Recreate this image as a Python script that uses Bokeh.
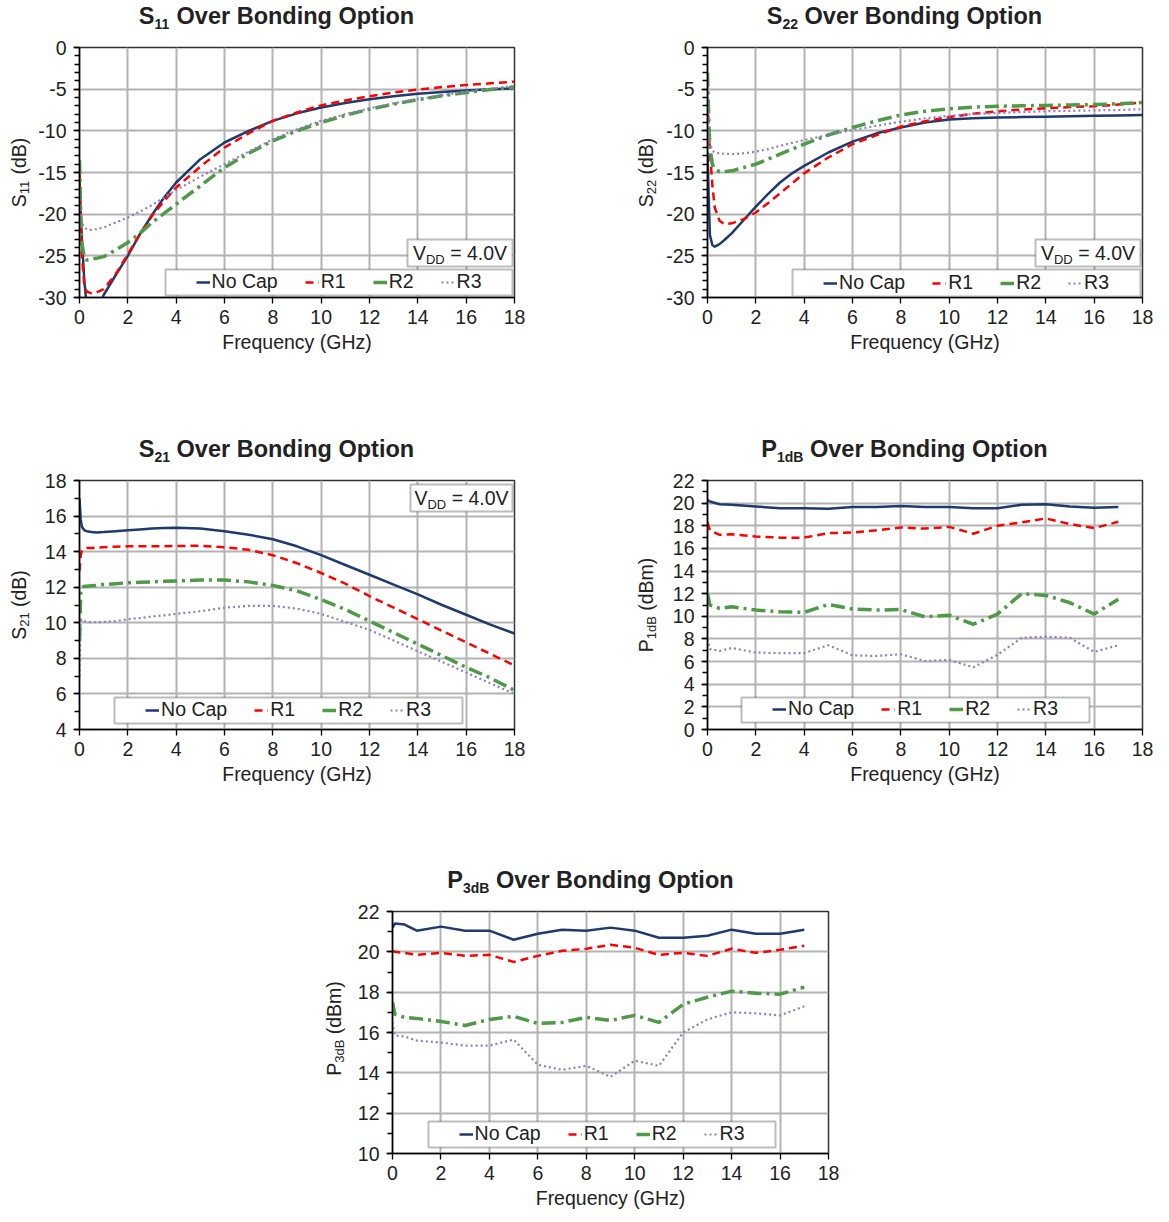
import math
from bokeh.plotting import figure
from bokeh.models import Range1d, FixedTicker, Legend, LegendItem, Label, BoxAnnotation, Spacer
from bokeh.layouts import column, row
from bokeh.embed import file_html
from bokeh.resources import INLINE

# ---------------- data ----------------
SERIES = ["No Cap", "R1", "R2", "R3"]
FREQ_TICKS = [0, 2, 4, 6, 8, 10, 12, 14, 16, 18]

S_FREQ = [0, 0.05, 0.1, 0.2, 0.3, 0.5, 0.7, 1, 1.5, 2, 2.5, 3, 3.5, 4, 5, 6, 7, 8, 9,
          10, 11, 12, 13, 14, 15, 16, 17, 18]

s11_nocap = [-16, -20, -23, -28, -31, -33, -32, -29.7, -27.3, -25, -22.4, -20.1, -18, -16.2,
             -13.4, -11.4, -10.0, -8.8, -7.9, -7.2, -6.65, -6.2, -5.85, -5.55, -5.35, -5.15, -5.0, -4.9]
s11_r1 = [-15, -21, -25, -28.5, -29.3, -29.5, -29.4, -29.0, -27.2, -24.8, -22.4, -20.2, -18.4, -16.8,
          -14.3, -12.0, -10.3, -8.8, -7.8, -6.95, -6.35, -5.85, -5.4, -5.05, -4.75, -4.5, -4.3, -4.1]
s11_r2 = [-13.5, -20, -23.5, -25.2, -25.5, -25.4, -25.3, -25.1, -24.3, -23.4, -22.3, -21.0, -19.9, -18.8,
          -16.6, -14.4, -12.7, -11.2, -10.0, -9.0, -8.15, -7.4, -6.8, -6.25, -5.8, -5.4, -5.05, -4.75]
s11_r3 = [-17, -20, -21, -21.6, -21.8, -21.9, -21.8, -21.6, -21.0, -20.4, -19.7, -18.9, -18.0, -17.1,
          -15.5, -14.0, -12.5, -11.0, -9.8, -8.8, -8.0, -7.3, -6.7, -6.2, -5.75, -5.3, -4.95, -4.6]

s22_nocap = [-12.5, -18, -22.5, -23.7, -23.9, -23.6, -23.1, -22.3, -20.7, -19.1, -17.6, -16.2, -15.1, -14.2,
             -12.6, -11.3, -10.3, -9.6, -9.0, -8.65, -8.5, -8.4, -8.35, -8.3, -8.25, -8.2, -8.15, -8.1]
s22_r1 = [-6.5, -9.5, -12.5, -16.5, -19.2, -20.8, -21.2, -21.1, -20.6, -19.8, -18.7, -17.5, -16.3, -15.1,
          -13.2, -11.6, -10.5, -9.5, -8.85, -8.35, -7.95, -7.65, -7.45, -7.3, -7.15, -7.05, -6.85, -6.6]
s22_r2 = [-3, -8.5, -12, -14, -14.6, -14.9, -14.9, -14.8, -14.4, -14.0, -13.4, -12.8, -12.2, -11.6,
          -10.5, -9.6, -8.8, -8.1, -7.65, -7.35, -7.15, -7.05, -7.0, -6.95, -6.9, -6.85, -6.75, -6.6]
s22_r3 = [-3.5, -8.5, -11.5, -12.4, -12.6, -12.7, -12.75, -12.8, -12.7, -12.5, -12.2, -11.8, -11.45, -11.1,
          -10.5, -9.9, -9.4, -8.9, -8.5, -8.2, -8.0, -7.85, -7.75, -7.65, -7.6, -7.55, -7.5, -7.4]

s21_nocap = [17.0, 15.8, 15.4, 15.2, 15.15, 15.1, 15.08, 15.1, 15.15, 15.2, 15.25, 15.3, 15.33, 15.35,
             15.3, 15.15, 14.95, 14.7, 14.3, 13.8, 13.25, 12.7, 12.15, 11.6, 11.0, 10.45, 9.9, 9.4]
s21_r1 = [12.9, 13.8, 14.05, 14.15, 14.2, 14.2, 14.22, 14.25, 14.28, 14.3, 14.3, 14.3, 14.3, 14.32,
          14.33, 14.25, 14.1, 13.8, 13.35, 12.8, 12.2, 11.5, 10.85, 10.2, 9.55, 8.9, 8.25, 7.6]
s21_r2 = [9.0, 11.8, 12.0, 12.05, 12.05, 12.08, 12.1, 12.15, 12.2, 12.25, 12.28, 12.3, 12.33, 12.35,
          12.4, 12.4, 12.3, 12.1, 11.8, 11.3, 10.75, 10.1, 9.45, 8.8, 8.15, 7.5, 6.9, 6.2]
s21_r3 = [7.0, 10.1, 10.2, 10.1, 10.05, 10.03, 10.03, 10.05, 10.1, 10.2, 10.27, 10.35, 10.42, 10.5,
          10.65, 10.85, 10.95, 10.95, 10.8, 10.5, 10.05, 9.6, 9.0, 8.4, 7.8, 7.2, 6.6, 6.0]

P_FREQ = [0, 0.1, 0.5, 1, 2, 3, 4, 5, 6, 7, 8, 9, 10, 11, 12, 13, 14, 15, 16, 17]

p1_nocap = [20.3, 20.15, 19.9, 19.85, 19.7, 19.55, 19.55, 19.5, 19.65, 19.65, 19.75, 19.65, 19.65,
            19.55, 19.55, 19.85, 19.9, 19.7, 19.6, 19.65]
p1_r1 = [18.3, 17.6, 17.2, 17.25, 17.05, 16.95, 16.95, 17.35, 17.4, 17.6, 17.85, 17.75, 17.9,
         17.3, 18.0, 18.3, 18.65, 18.15, 17.8, 18.35]
p1_r2 = [12.0, 11.0, 10.7, 10.85, 10.55, 10.4, 10.35, 11.05, 10.65, 10.55, 10.6, 9.95, 10.1,
         9.3, 10.2, 12.0, 11.85, 11.2, 10.2, 11.5]
p1_r3 = [8.0, 7.1, 6.95, 7.2, 6.8, 6.75, 6.75, 7.45, 6.55, 6.5, 6.65, 6.05, 6.15,
         5.5, 6.6, 8.1, 8.2, 8.1, 6.85, 7.45]

p3_nocap = [21.2, 21.4, 21.35, 21.05, 21.25, 21.05, 21.05, 20.6, 20.9, 21.1, 21.05, 21.2, 21.05,
            20.7, 20.7, 20.8, 21.1, 20.9, 20.9, 21.1]
p3_r1 = [20.05, 20.0, 19.95, 19.85, 19.95, 19.8, 19.85, 19.5, 19.8, 20.05, 20.15, 20.35, 20.2,
         19.85, 19.95, 19.8, 20.15, 19.95, 20.1, 20.3]
p3_r2 = [17.5, 16.9, 16.75, 16.7, 16.55, 16.35, 16.65, 16.8, 16.45, 16.5, 16.75, 16.6, 16.85,
         16.5, 17.4, 17.75, 18.05, 17.95, 17.9, 18.25]
p3_r3 = [16.5, 15.85, 15.8, 15.6, 15.5, 15.35, 15.35, 15.65, 14.4, 14.15, 14.35, 13.8, 14.6,
         14.35, 16.0, 16.65, 17.0, 16.95, 16.85, 17.3]

S_DB_TICKS = [-30, -25, -20, -15, -10, -5, 0]
S_DB_MINOR = list(range(-30, 1))
S21_TICKS = [4, 6, 8, 10, 12, 14, 16, 18]
S21_MINOR = list(range(4, 19))
P1_TICKS = [0, 2, 4, 6, 8, 10, 12, 14, 16, 18, 20, 22]
P1_MINOR = list(range(0, 23))
P3_TICKS = [10, 12, 14, 16, 18, 20, 22]
P3_MINOR = list(range(10, 23))

# ---------------- style ----------------
FONT = "Liberation Sans"
TXT = "#222222"
FS = 19.5
MID = 0.3465  # baseline -> middle of text box, in em
STYLES = [
    dict(line_color="#1f3a6e", line_width=2.5),
    dict(line_color="#ff0000", line_width=2.5, line_dash="8 5"),
    dict(line_color="#4e9a47", line_width=3.5, line_dash="14 5 3 5"),
    dict(line_color="#8f7dc6", line_width=2.2, line_dash="2 3"),
]

AR = {' ': 278, '(': 333, ')': 333, '.': 278, '=': 584, '-': 333, 'B': 667, 'D': 722, 'P': 667,
      'S': 667, 'V': 667, 'C': 722, 'N': 722, 'R': 722, 'a': 556, 'd': 556, 'm': 833, 'o': 556, 'p': 556}
AB = {' ': 278, 'O': 778, 'v': 556, 'e': 556, 'r': 389, 'B': 722, 'o': 611, 'n': 611, 'd': 611,
      'i': 278, 'g': 611, 'p': 611, 't': 333, 'S': 667, 'P': 667}


def tw(s, size, bold=False):
    tbl = AB if bold else AR
    return sum(tbl.get(c, 556) for c in s) * size / 1000.0


def add_pieces(p, pieces, x0, y0, angle=0.0):
    """(x0, y0): start of the baseline, frame-relative screen units (y up)."""
    pos = 0.0
    for txt, size, bold, shift in pieces:
        lead = len(txt) - len(txt.lstrip(' '))
        pos += tw(' ' * lead, size, bold)
        t = txt.strip(' ')
        if angle == 0:
            x, y = x0 + pos, y0 - shift + MID * size
        else:
            x, y = x0 + shift - MID * size, y0 + pos
        p.add_layout(Label(x=x, y=y, x_units="screen", y_units="screen", text=t, angle=angle,
                           text_font=FONT, text_font_size=f"{size}px",
                           text_font_style="bold" if bold else "normal",
                           text_baseline="middle", text_align="left", text_color=TXT))
        pos += tw(t, size, bold)


def total_w(pieces):
    return sum(tw(t, s, b) for t, s, b, _ in pieces)


def text_fig(w, h, mbt=0, mbb=0):
    p = figure(width=w, height=h, output_backend="svg", toolbar_location=None, tools="",
               title=None, x_axis_location=None, y_axis_location=None,
               min_border_left=0, min_border_right=0, min_border_top=mbt, min_border_bottom=mbb,
               x_range=Range1d(0, 1), y_range=Range1d(0, 1),
               background_fill_color="white", border_fill_color="white")
    p.outline_line_color = None
    p.grid.visible = False
    return p


def title_fig(w, h, cx, base, main, sub):
    p = text_fig(w, h)
    pcs = [(main, 23.5, True, 0), (sub, 14, True, 4), (" Over Bonding Option", 23.5, True, 0)]
    add_pieces(p, pcs, cx - total_w(pcs) / 2.0, base)
    return p


def ylabel_fig(w, h, mbt, mbb, bx, main, sub, unit):
    p = text_fig(w, h, mbt, mbb)
    fh = h - mbt - mbb
    pcs = [(main, FS, False, 0), (sub, 13, False, 4), (unit, FS, False, 0)]
    add_pieces(p, pcs, bx, fh / 2.0 - total_w(pcs) / 2.0, angle=math.pi / 2)
    return p


def make_panel(w, h, mbl, mbr, mbt, mbb, yr, yt, ym, freq, series, legend_box, vdd_box=None):
    p = figure(width=w, height=h, x_range=Range1d(0, 18), y_range=Range1d(*yr),
               output_backend="svg", toolbar_location=None, tools="", title=None,
               min_border_left=mbl, min_border_right=mbr, min_border_top=mbt, min_border_bottom=mbb,
               background_fill_color="white", border_fill_color="white")
    p.outline_line_color = "#333333"
    p.outline_line_width = 1.5

    p.xaxis.ticker = FixedTicker(ticks=FREQ_TICKS, minor_ticks=[])
    p.yaxis.ticker = FixedTicker(ticks=yt, minor_ticks=ym)
    p.yaxis.major_label_overrides = {v: str(v) for v in yt}
    for ax in (p.xaxis[0], p.yaxis[0]):
        ax.axis_line_color = "black"
        ax.axis_line_width = 1.5
        ax.major_tick_line_color = "black"
        ax.minor_tick_line_color = "black"
        ax.major_tick_line_width = 1.3
        ax.minor_tick_line_width = 1.3
        ax.major_tick_in = 0
        ax.major_tick_out = 6
        ax.minor_tick_in = 0
        ax.minor_tick_out = 5
        ax.major_label_text_font = FONT
        ax.major_label_text_font_size = f"{FS}px"
        ax.major_label_text_color = TXT
    p.xaxis.major_label_standoff = 6
    p.yaxis.major_label_standoff = 7
    p.xaxis.axis_label = "Frequency (GHz)"
    p.xaxis.axis_label_text_font = FONT
    p.xaxis.axis_label_text_font_size = f"{FS}px"
    p.xaxis.axis_label_text_font_style = "normal"
    p.xaxis.axis_label_text_color = TXT
    p.xaxis.axis_label_standoff = 4

    for g in (p.xgrid[0], p.ygrid[0]):
        g.grid_line_color = "#b3b3b3"
        g.grid_line_width = 2

    rends = []
    for ys, st in zip(series, STYLES):
        rends.append(p.line(freq, ys, line_join="round", **st))

    bl, br, bb, bt = legend_box
    p.add_layout(BoxAnnotation(left=bl, right=br, bottom=bb, top=bt, left_units="screen",
                               right_units="screen", bottom_units="screen", top_units="screen",
                               fill_color="white", fill_alpha=1.0, line_color="#222222",
                               line_width=2, level="annotation"))
    sp = 27
    lw = 6 + sum(14 + 2 + tw(s, FS) for s in SERIES) + sp * 3
    leg = Legend(items=[LegendItem(label=s, renderers=[r]) for s, r in zip(SERIES, rends)],
                 orientation="horizontal", location=(bl + (br - bl - lw) / 2.0, bb - 1),
                 padding=3, spacing=sp, glyph_width=14, glyph_height=20, label_standoff=2,
                 margin=0, border_line_alpha=0, background_fill_alpha=0,
                 label_text_font=FONT, label_text_font_size=f"{FS}px", label_text_color=TXT)
    p.add_layout(leg)

    if vdd_box is not None:
        l, r, b, t = vdd_box
        p.add_layout(BoxAnnotation(left=l, right=r, bottom=b, top=t, left_units="screen",
                                   right_units="screen", bottom_units="screen", top_units="screen",
                                   fill_color="white", fill_alpha=1.0, line_color="#222222",
                                   line_width=2, level="annotation"))
        pcs = [("V", FS, False, 0), ("DD", 13, False, 4.5), (" = 4.0V", FS, False, 0)]
        W = total_w(pcs)
        add_pieces(p, pcs, (l + r) / 2.0 - W / 2.0, (b + t) / 2.0 - 7)
    return p


TOP = 13  # border above each plot frame (room for the top tick label)
TB = 10   # title baseline height above the bottom of its strip

# ---- row 1 (S11, S22) ----
f1 = make_panel(598, 391, 47, 116, TOP, 128, (-30, 0), S_DB_TICKS, S_DB_MINOR, S_FREQ,
                [s11_nocap, s11_r1, s11_r2, s11_r3], (86, 433, 2, 28), vdd_box=(328, 433, 31, 58))
f2 = make_panel(495, 391, 45, 15, TOP, 128, (-30, 0), S_DB_TICKS, S_DB_MINOR, S_FREQ,
                [s22_nocap, s22_r1, s22_r2, s22_r3], (85, 433, 1, 28), vdd_box=(328, 433, 31, 58))
t1 = title_fig(630, 34, 276, TB, "S", "11")
t2 = title_fig(527, 34, 274, TB, "S", "22")
y1 = ylabel_fig(32, 391, TOP, 128, 25, "S", "11", " (dB)")
y2 = ylabel_fig(32, 391, TOP, 128, 22, "S", "22", " (dB)")

# ---- row 2 (S21, P1dB) ----
f3 = make_panel(598, 391, 47, 116, TOP, 129, (4, 18), S21_TICKS, S21_MINOR, S_FREQ,
                [s21_nocap, s21_r1, s21_r2, s21_r3], (35, 383, 6, 32), vdd_box=(331, 433, 218, 245))
f4 = make_panel(495, 391, 45, 15, TOP, 129, (0, 22), P1_TICKS, P1_MINOR, P_FREQ,
                [p1_nocap, p1_r1, p1_r2, p1_r3], (34, 382, 7, 32))
t3 = title_fig(630, 42, 276, TB, "S", "21")
t4 = title_fig(527, 42, 274, TB, "P", "1dB")
y3 = ylabel_fig(32, 391, TOP, 129, 25, "S", "21", " (dB)")
y4 = ylabel_fig(32, 391, TOP, 129, 22, "P", "1dB", " (dBm)")

# ---- row 3 (P3dB) ----
f5 = make_panel(521, 313, 45, 40, TOP, 50, (10, 22), P3_TICKS, P3_MINOR, P_FREQ,
                [p3_nocap, p3_r1, p3_r2, p3_r3], (36, 383, 6, 32))
t5 = title_fig(868, 40, 590, TB, "P", "3dB")
y5 = ylabel_fig(32, 313, TOP, 50, 25, "P", "3dB", " (dBm)")

page = column(
    row(column(t1, row(y1, f1)), column(t2, row(y2, f2))),
    row(column(t3, row(y3, f3)), column(t4, row(y4, f4))),
    column(t5, row(Spacer(width=315, height=313), y5, f5)),
)
open("out.html", "w").write(file_html(page, INLINE))
